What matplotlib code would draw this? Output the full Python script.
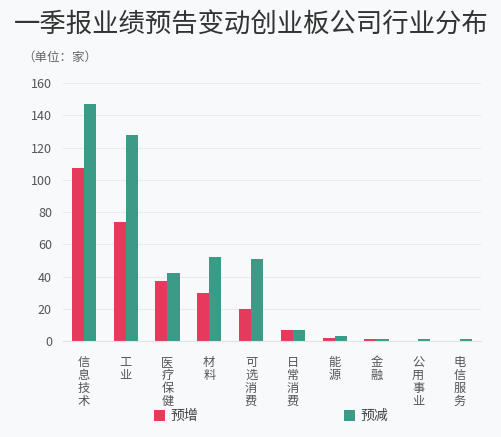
import matplotlib.pyplot as plt
import numpy as np

plt.rcParams['font.family'] = ['Noto Sans CJK SC', 'DejaVu Sans']

industries = ['信息技术', '工业', '医疗保健', '材料', '可选消费',
              '日常消费', '能源', '金融', '公用事业', '电信服务']
increase = [107, 74, 37, 30, 20, 7, 2, 1, 0, 0]
decrease = [147, 128, 42, 52, 51, 7, 3, 1, 1, 1]
yticks = [0, 20, 40, 60, 80, 100, 120, 140, 160]

bg = '#f8f9fb'
red = '#e63a5c'
green = '#3b9b86'

fig = plt.figure(figsize=(5.02, 4.37), dpi=100, facecolor=bg)
ax = fig.add_axes([0.1255, 0.2197, 0.8325, 0.5903], facecolor=bg)

x = np.arange(len(industries))
w = 0.29
ax.bar(x - w / 2, increase, w, color=red, label='预增')
ax.bar(x + w / 2, decrease, w, color=green, label='预减')

ax.set_xlim(-0.5, len(industries) - 0.5)
ax.set_ylim(0, 160)
ax.set_yticks(yticks)
ax.tick_params(axis='y', length=0, labelsize=9, labelcolor='#555555', pad=8)
ax.grid(axis='y', color='#e8eaef', linewidth=0.8)
ax.set_axisbelow(True)
for s in ['top', 'right', 'left']:
    ax.spines[s].set_visible(False)
ax.spines['bottom'].set_color('#e0e2e6')

ax.set_xticks(x)
ax.set_xticklabels(['\n'.join(n) for n in industries], fontsize=8.8,
                   color='#555555', linespacing=1.0)
ax.tick_params(axis='x', length=0, pad=11)

fig.text(0.5, 0.943, '一季报业绩预告变动创业板公司行业分布', ha='center',
         va='center', fontsize=19, color='#333333')
fig.text(0.045, 0.868, '（单位：家）', ha='left', va='center', fontsize=9,
         color='#666666')

fig.legend(loc='center', bbox_to_anchor=(0.54, 0.048), ncol=2, frameon=False,
           fontsize=10, handlelength=0.8, handleheight=0.8, handletextpad=0.4,
           columnspacing=10.5, labelcolor='#444444')

fig.savefig('out.png', dpi=100, facecolor=bg)
